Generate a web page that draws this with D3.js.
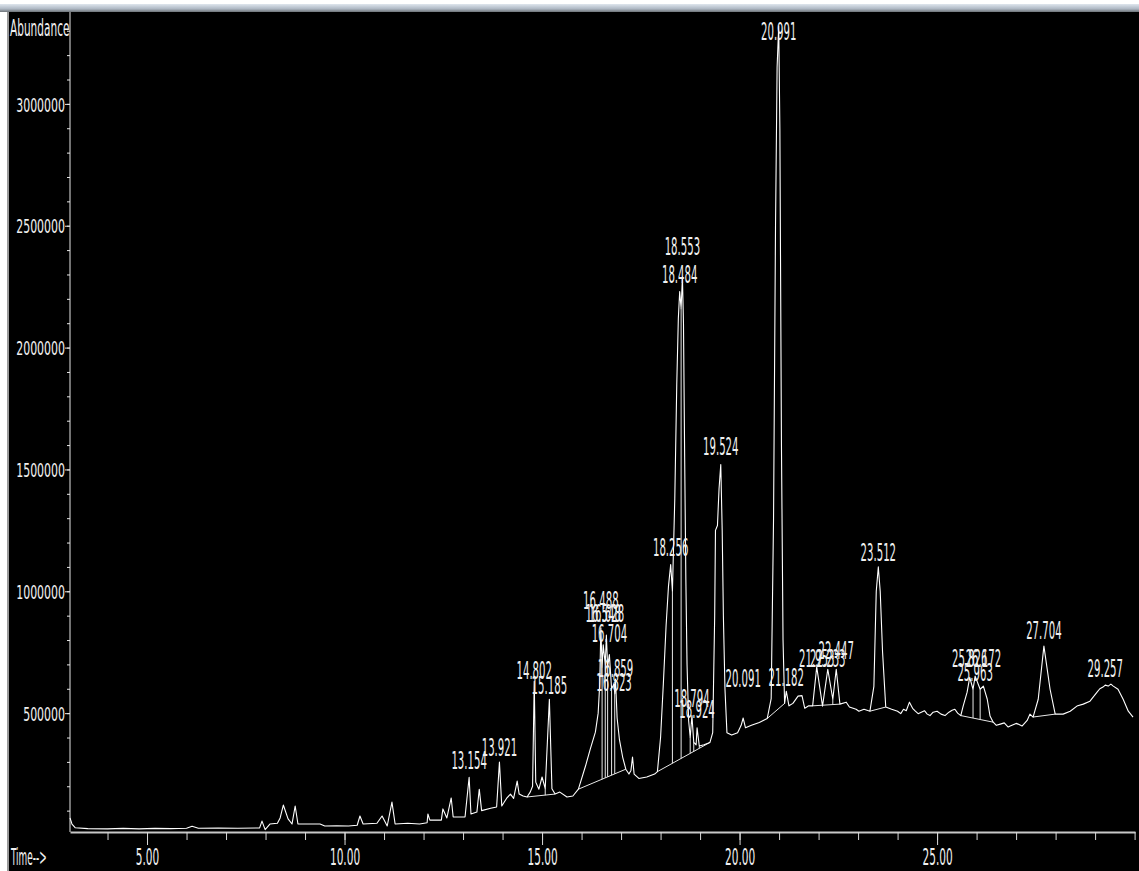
<!DOCTYPE html>
<meta charset="utf-8">
<script src="https://d3js.org/d3.v7.min.js"></script>
<style>
  body { margin: 0; background: #fff; }
  svg { display: block; }
</style>
<div id="chart"></div>
<script>

// TIC trace: [retention time (min), abundance]
var trace = [
  [3.05, 70000], [3.10, 45000], [3.18, 30000], [3.5, 26000], [4.0, 25000], [4.4, 27000],
  [4.8, 25000], [5.2, 27000], [5.6, 26000], [6.0, 28000], [6.14, 36000], [6.3, 28000],
  [6.8, 29000], [7.3, 28000], [7.85, 29000], [7.91, 57000], [7.99, 22000], [8.11, 45000],
  [8.30, 48000], [8.37, 70000], [8.45, 123000], [8.57, 66000], [8.67, 45000], [8.75, 119000],
  [8.82, 45000], [9.38, 45000], [9.5, 37000], [9.8, 38000], [10.1, 37000], [10.32, 40000],
  [10.39, 78000], [10.47, 45000], [10.82, 48000], [10.95, 78000], [11.08, 37000], [11.20, 135000],
  [11.28, 45000], [11.6, 48000], [11.9, 45000], [12.09, 50000], [12.11, 86000], [12.16, 61000],
  [12.45, 61000], [12.49, 107000], [12.59, 70000], [12.70, 152000], [12.75, 74000], [13.05, 74000],
  [13.154, 237000], [13.20, 86000], [13.35, 94000], [13.41, 188000], [13.47, 100000], [13.7, 110000],
  [13.85, 115000], [13.921, 299000], [13.98, 119000], [14.10, 150000], [14.20, 168000], [14.28, 150000],
  [14.37, 221000], [14.42, 168000], [14.52, 160000], [14.62, 156000], [14.70, 176000], [14.76, 200000],
  [14.802, 631000], [14.84, 217000], [14.92, 188000], [15.00, 238000], [15.08, 190000], [15.185, 557000],
  [15.25, 190000], [15.33, 168000], [15.45, 176000], [15.63, 156000], [15.78, 160000], [15.92, 188000],
  [16.10, 283000], [16.22, 352000], [16.35, 422000], [16.42, 500000], [16.46, 620000], [16.488, 850000],
  [16.52, 690000], [16.548, 780000], [16.60, 700000], [16.628, 820000], [16.66, 690000], [16.704, 740000],
  [16.76, 600000], [16.823, 620000], [16.84, 580000], [16.859, 640000], [16.90, 480000], [16.96, 390000],
  [17.04, 320000], [17.12, 270000], [17.20, 250000], [17.25, 265000], [17.29, 320000], [17.33, 250000],
  [17.45, 232000], [17.65, 238000], [17.85, 250000], [17.92, 260000], [18.00, 400000], [18.07, 620000],
  [18.14, 860000], [18.20, 1020000], [18.256, 1110000], [18.30, 1000000], [18.36, 1380000], [18.41, 1850000],
  [18.45, 2120000], [18.484, 2230000], [18.52, 2160000], [18.553, 2290000], [18.58, 2100000], [18.61, 1550000],
  [18.64, 1050000], [18.67, 700000], [18.71, 470000], [18.75, 400000], [18.794, 490000], [18.84, 380000],
  [18.90, 370000], [18.924, 440000], [18.98, 365000], [19.10, 370000], [19.25, 380000], [19.32, 420000],
  [19.37, 900000], [19.39, 1250000], [19.44, 1270000], [19.48, 1420000], [19.524, 1520000], [19.56, 1250000],
  [19.59, 900000], [19.63, 600000], [19.68, 420000], [19.80, 410000], [19.95, 420000], [20.04, 450000],
  [20.091, 480000], [20.15, 440000], [20.30, 450000], [20.50, 462000], [20.70, 478000], [20.80, 560000],
  [20.86, 1300000], [20.91, 2500000], [20.95, 3150000], [20.991, 3320000], [21.02, 2900000], [21.06, 1600000],
  [21.10, 800000], [21.14, 540000], [21.182, 590000], [21.25, 530000], [21.35, 540000], [21.48, 570000],
  [21.58, 572000], [21.65, 520000], [21.75, 530000], [21.85, 530000], [21.953, 690000], [22.10, 529000],
  [22.233, 680000], [22.36, 557000], [22.447, 680000], [22.54, 537000], [22.70, 545000], [22.78, 525000],
  [22.95, 516000], [23.02, 508000], [23.15, 516000], [23.30, 508000], [23.40, 610000], [23.46, 1000000],
  [23.512, 1100000], [23.56, 1000000], [23.62, 750000], [23.70, 525000], [23.85, 516000], [24.0, 508000],
  [24.08, 498000], [24.15, 516000], [24.22, 510000], [24.30, 545000], [24.38, 520000], [24.45, 508000],
  [24.52, 498000], [24.6, 504000], [24.68, 510000], [24.75, 496000], [24.82, 490000], [24.9, 504000],
  [25.0, 508000], [25.1, 496000], [25.2, 490000], [25.3, 504000], [25.38, 512000], [25.45, 516000],
  [25.52, 500000], [25.6, 490000], [25.66, 529000], [25.76, 586000], [25.826, 647000], [25.91, 598000],
  [25.963, 652000], [26.09, 598000], [26.172, 611000], [26.27, 557000], [26.34, 488000], [26.42, 463000],
  [26.5, 450000], [26.6, 455000], [26.7, 460000], [26.8, 443000], [26.85, 447000], [27.0, 458000],
  [27.05, 455000], [27.15, 447000], [27.28, 470000], [27.35, 496000], [27.43, 484000], [27.56, 557000],
  [27.704, 775000], [27.86, 598000], [27.99, 496000], [28.19, 496000], [28.37, 508000], [28.54, 529000],
  [28.70, 537000], [28.87, 549000], [29.05, 586000], [29.12, 600000], [29.20, 607000], [29.257, 615000],
  [29.33, 611000], [29.40, 619000], [29.46, 611000], [29.58, 598000], [29.71, 557000], [29.84, 508000],
  [29.96, 484000]
];

// labelled peaks and the abundance at which each label sits
var peakTimes = [13.154, 13.921, 14.802, 15.185, 16.488, 16.548, 16.628, 16.704, 16.859, 16.823,
                 18.256, 18.484, 18.553, 18.794, 18.924, 19.524, 20.091, 20.991, 21.182,
                 21.953, 22.233, 22.447, 23.512, 25.826, 26.172, 25.963, 27.704, 29.257];
var labelLevel = [270000, 324000, 639000, 578000, 926000, 873000, 873000, 791000, 647000, 590000,
                  1143000, 2266000, 2381000, 524000, 479000, 1561000, 606000, 3262000, 611000,
                  688000, 688000, 721000, 1123000, 688000, 688000, 631000, 803000, 647000];

// integration baselines [t0, v0, t1, v1] and drop lines [t, baseline value]
var baselines = [
  [14.62, 156000, 15.33, 168000], [15.92, 188000, 17.12, 270000], [17.92, 260000, 19.25, 380000],
  [20.70, 478000, 21.14, 540000], [21.85, 530000, 22.54, 537000], [23.30, 508000, 23.70, 525000],
  [25.60, 490000, 26.42, 463000], [27.43, 484000, 27.99, 496000]
];
var drops = [
  [15.08, 163000], [16.52, 229000], [16.60, 234500], [16.66, 238600], [16.76, 245400], [16.84, 250900],
  [18.30, 294000], [18.52, 314000], [18.75, 335000], [18.84, 343000], [18.98, 356000],
  [22.10, 533000], [22.36, 535000], [25.91, 480000], [26.09, 474000]
];

var xMajor = [5, 10, 15, 20, 25];
var xMinor = d3.range(4, 31);
var yMajor = [500000, 1000000, 1500000, 2000000, 2500000, 3000000];
var yMinor = d3.range(100000, 3400000, 100000);

var width = 1139, height = 871;
var font = "'DejaVu Sans Condensed', 'DejaVu Sans', sans-serif";
var ink = "#f0f0f0";

var svg = d3.select("#chart").append("svg")
  .attr("width", width)
  .attr("height", height);

// window frame
var grad = svg.append("defs").append("linearGradient")
  .attr("id", "bar").attr("x1", 0).attr("y1", 0).attr("x2", 0).attr("y2", 1);
grad.append("stop").attr("offset", "0%").attr("stop-color", "#dfe6ee");
grad.append("stop").attr("offset", "60%").attr("stop-color", "#aeb8c4");
grad.append("stop").attr("offset", "100%").attr("stop-color", "#6e7378");
svg.append("rect").attr("x", 0).attr("y", 4).attr("width", width).attr("height", 8).attr("fill", "url(#bar)");
svg.append("rect").attr("x", 9).attr("y", 12).attr("width", width - 9).attr("height", height - 12).attr("fill", "#000");
svg.append("rect").attr("x", 7).attr("y", 12).attr("width", 2).attr("height", height - 12).attr("fill", "#9a9a9a");

var x = d3.scaleLinear().domain([3.05, 30.01]).range([70, 1135]);
var y = d3.scaleLinear().domain([0, 3377000]).range([835, 12]);

function squeeze(sel, sx) {
  // narrow the glyphs like the instrument font
  sel.each(function() {
    var t = d3.select(this);
    var tx = +t.attr("x") || 0;
    t.attr("x", tx / sx).attr("transform", "scale(" + sx + ",1)");
  });
}

// y axis
var gyMinor = svg.append("g").attr("transform", "translate(70,0)")
  .call(d3.axisLeft(y).tickValues(yMinor).tickSize(3).tickSizeOuter(0).tickFormat(""));
var gy = svg.append("g").attr("transform", "translate(70,0)")
  .call(d3.axisLeft(y).tickValues(yMajor).tickSize(5).tickSizeOuter(0).tickFormat(d3.format("d")));
gy.select(".domain").remove();
gyMinor.select(".domain").attr("d", "M0,12V832");
svg.selectAll("g path, g line").attr("stroke", "#e6e6e6");
gy.selectAll("text")
  .attr("fill", ink).attr("font-family", font).attr("font-size", 20)
  .attr("x", -5).attr("dy", "0.36em");
squeeze(gy.selectAll("text"), 0.61);

// x axis
var gxMinor = svg.append("g").attr("transform", "translate(0,832)")
  .call(d3.axisBottom(x).tickValues(xMinor).tickSize(8).tickSizeOuter(0).tickFormat(""));
var gx = svg.append("g").attr("transform", "translate(0,832)")
  .call(d3.axisBottom(x).tickValues(xMajor).tickSize(13).tickSizeOuter(0).tickFormat(d3.format(".2f")));
gx.select(".domain").remove();
gxMinor.select(".domain").attr("stroke", "#c8c8c8").attr("stroke-width", 2);
gxMinor.selectAll("line").attr("stroke", "#d8d8d8");
gx.selectAll("line").attr("stroke", "#d8d8d8");
gx.selectAll("text")
  .attr("fill", ink).attr("font-family", font).attr("font-size", 23)
  .attr("y", 33).attr("dy", 0);
squeeze(gx.selectAll("text"), 0.51);

// axis titles
svg.append("text").attr("transform", "translate(10,36) scale(0.51,1)")
  .attr("font-family", font).attr("font-size", 23).attr("fill", ink).text("Abundance");
svg.append("text").attr("transform", "translate(11,865) scale(0.43,1)")
  .attr("font-family", font).attr("font-size", 23).attr("fill", ink).text("Time-->");

// integration marks
var traceAt = new Map(trace.map(function(d) { return [d[0], d[1]]; }));
svg.append("g").selectAll("line.base")
  .data(baselines).enter().append("line")
    .attr("x1", function(d) { return x(d[0]); }).attr("y1", function(d) { return y(d[1]); })
    .attr("x2", function(d) { return x(d[2]); }).attr("y2", function(d) { return y(d[3]); })
    .attr("stroke", "#e8e8e8").attr("stroke-width", 1);
svg.append("g").selectAll("line.drop")
  .data(drops).enter().append("line")
    .attr("x1", function(d) { return x(d[0]); }).attr("y1", function(d) { return y(d[1]); })
    .attr("x2", function(d) { return x(d[0]); }).attr("y2", function(d) { return y(traceAt.get(d[0])); })
    .attr("stroke", "#e8e8e8").attr("stroke-width", 1);

// the trace
var line = d3.line()
  .x(function(d) { return x(d[0]); })
  .y(function(d) { return y(d[1]); });
svg.append("path")
  .datum(trace)
  .attr("d", line)
  .attr("fill", "none")
  .attr("stroke", "#ffffff")
  .attr("stroke-width", 1.1)
  .attr("stroke-linejoin", "round");

// peak labels
svg.append("g").selectAll("text")
  .data(peakTimes).enter().append("text")
    .attr("transform", function(d, i) {
      return "translate(" + x(d) + "," + y(labelLevel[i]) + ") scale(0.47,1)";
    })
    .attr("text-anchor", "middle")
    .attr("font-family", font).attr("font-size", 24).attr("fill", ink)
    .text(function(d) { return d.toFixed(3); });

</script>
